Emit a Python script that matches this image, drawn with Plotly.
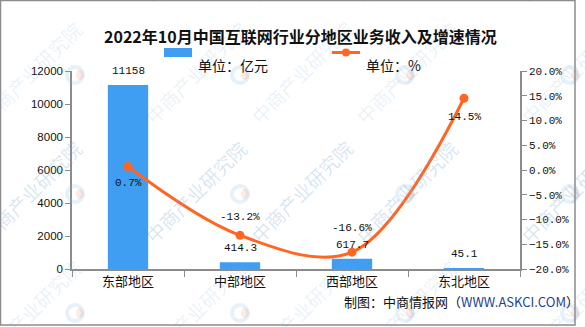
import plotly.graph_objects as go

# Regional internet business revenue, Oct 2022
regions = ["东部地区", "中部地区", "西部地区", "东北地区"]
revenue = [11158, 414.3, 617.7, 45.1]          # 亿元
growth = [0.7, -13.2, -16.6, 14.5]            # %
revenue_labels = ["11158", "414.3", "617.7", "45.1"]
growth_labels = ["0.7%", "-13.2%", "-16.6%", "14.5%"]
growth_label_shift = [-16, 18, 24, -19]        # px offset of each label from its point

W, H = 585, 327
L, R, T, B = 72, 65, 71, 58
PW, PH = W - L - R, H - T - B

BLUE = "#409EF2"
ORANGE = "#FF6622"
AXIS = "#8c8c8c"
LABEL_FONT = dict(family="Liberation Mono", size=11, color="#111")


def px(x):
    return (x - L) / PW


def py(y):
    return (H - B - y) / PH


fig = go.Figure()

fig.add_trace(go.Bar(
    x=regions, y=revenue, name="单位：亿元",
    marker=dict(color=BLUE, line=dict(width=0)),
    width=0.36,
))

fig.add_trace(go.Scatter(
    x=regions, y=growth, name="单位：%", yaxis="y2",
    mode="lines+markers",
    line=dict(color=ORANGE, width=3, shape="spline", smoothing=1.0),
    marker=dict(color=ORANGE, size=9),
    cliponaxis=False,
))

shapes = []
annotations = []

# faint repeating watermark
for lx in [-90, 75, 240, 405, 570]:
    for ly in [-44, 75, 194, 313, 432]:
        annotations.append(dict(
            x=px(lx + 61), y=py(ly - 62), xref="paper", yref="paper",
            text="中商产业研究院", showarrow=False, textangle=-45,
            font=dict(family="Noto Sans CJK SC", size=19, color="rgba(120,170,215,0.16)"),
        ))
        shapes.append(dict(
            type="circle", xref="paper", yref="paper",
            x0=px(lx - 8), x1=px(lx + 8), y0=py(ly + 8), y1=py(ly - 8),
            line=dict(color="rgba(130,185,225,0.2)", width=4),
        ))
        shapes.append(dict(
            type="circle", xref="paper", yref="paper",
            x0=px(lx + 1), x1=px(lx + 9), y0=py(ly + 5), y1=py(ly - 5),
            fillcolor="rgba(245,150,120,0.2)", line=dict(width=0),
        ))

# value labels
for cat, val, lab in zip(regions, revenue, revenue_labels):
    annotations.append(dict(
        x=cat, y=val, xref="x", yref="y", text=lab, showarrow=False,
        yshift=14, font=LABEL_FONT,
    ))
for cat, val, lab, shift in zip(regions, growth, growth_labels, growth_label_shift):
    annotations.append(dict(
        x=cat, y=val, xref="x", yref="y2", text=lab, showarrow=False,
        yshift=shift, font=LABEL_FONT,
    ))

# outer frame
shapes.append(dict(
    type="rect", xref="paper", yref="paper",
    x0=px(0.5), x1=px(575), y0=py(325), y1=py(0.5),
    line=dict(color=AXIS, width=1.5),
))

# legend
shapes.append(dict(
    type="rect", xref="paper", yref="paper",
    x0=px(164), x1=px(192), y0=py(57), y1=py(48),
    fillcolor=BLUE, line=dict(width=0),
))
shapes.append(dict(
    type="line", xref="paper", yref="paper",
    x0=px(332), x1=px(360), y0=py(52.5), y1=py(52.5),
    line=dict(color=ORANGE, width=3),
))
shapes.append(dict(
    type="circle", xref="paper", yref="paper",
    x0=px(342), x1=px(350), y0=py(56.5), y1=py(48.5),
    fillcolor=ORANGE, line=dict(width=0),
))
annotations += [
    dict(x=px(196), y=py(53), xref="paper", yref="paper", xanchor="left",
         text="单位：亿元", showarrow=False,
         font=dict(family="Noto Sans CJK SC", size=14, color="#111")),
    dict(x=px(364), y=py(53), xref="paper", yref="paper", xanchor="left",
         text="单位：%", showarrow=False,
         font=dict(family="Noto Sans CJK SC", size=14, color="#111")),
    dict(x=px(300), y=py(22), xref="paper", yref="paper",
         text="<b>2022年10月中国互联网行业分地区业务收入及增速情况</b>", showarrow=False,
         font=dict(family="Noto Sans CJK SC", size=16, color="#111")),
    dict(x=px(342), y=py(313), xref="paper", yref="paper", xanchor="left",
         text="制图：中商情报网（<span style='color:#1f3f8f'>WWW.ASKCI.COM</span>）",
         showarrow=False,
         font=dict(family="Noto Sans CJK SC", size=13, color="#111")),
]

fig.update_layout(
    width=W, height=H, autosize=False,
    margin=dict(l=L, r=R, t=T, b=B, pad=0),
    paper_bgcolor="white", plot_bgcolor="white",
    showlegend=False,
    shapes=shapes, annotations=annotations,
    xaxis=dict(
        type="category", tickson="boundaries", ticks="outside", ticklen=6,
        tickcolor=AXIS, showline=True, linecolor=AXIS, linewidth=1.5,
        showgrid=False, range=[-0.5, 3.5],
        tickfont=dict(family="Noto Sans CJK SC", size=13, color="#111"),
    ),
    yaxis=dict(
        range=[0, 12000], dtick=2000, tickformat="d", ticks="outside", ticklen=5,
        tickcolor=AXIS, showline=True, linecolor=AXIS, linewidth=1.5,
        showgrid=False, zeroline=False,
        tickfont=dict(family="Liberation Sans", size=11.5, color="#111"),
    ),
    yaxis2=dict(
        overlaying="y", side="right", range=[-20, 20], dtick=5,
        tickformat=".1f", ticksuffix="%", ticks="outside", ticklen=5,
        tickcolor=AXIS, showline=True, linecolor=AXIS, linewidth=1.5,
        showgrid=False, zeroline=False,
        tickfont=dict(family="Liberation Mono", size=11, color="#111"),
    ),
)

fig.write_html("out.html")
